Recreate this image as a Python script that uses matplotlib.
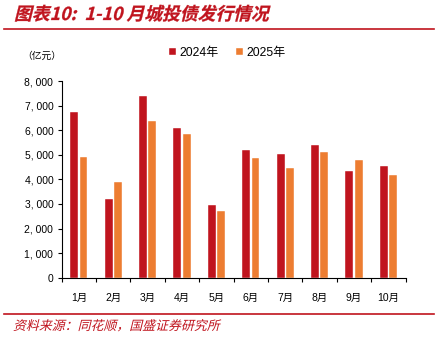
import numpy as np
import matplotlib
matplotlib.use("Agg")
import matplotlib.pyplot as plt
from matplotlib.lines import Line2D
from matplotlib.ticker import FuncFormatter
from matplotlib.textpath import TextPath
from matplotlib.patches import PathPatch
from matplotlib.font_manager import FontProperties
from matplotlib.transforms import Affine2D

plt.rcParams['font.family'] = ['Liberation Sans', 'Noto Sans CJK SC', 'DejaVu Sans']

months = ["1月", "2月", "3月", "4月", "5月", "6月", "7月", "8月", "9月", "10月"]
issue_2024 = [6730, 3200, 7400, 6080, 2940, 5190, 5050, 5380, 4360, 4540]
issue_2025 = [4900, 3880, 6380, 5840, 2710, 4850, 4460, 5110, 4800, 4160]

c24 = "#C0141E"
c25 = "#ED7D31"
red = "#C0141E"

fig = plt.figure(figsize=(4.39, 3.42), dpi=100)
ax = fig.add_axes([0.1405, 0.188, 0.7835, 0.575])


def slanted_text(s, x_px, y_px, size, color, weight="normal", lw=0.2):
    # fake italic: shear the glyph outlines
    fp = FontProperties(family="Noto Sans CJK SC", weight=weight)
    tp = TextPath((0, 0), s, size=size, prop=fp)
    tr = Affine2D().skew_deg(14, 0).scale(1 / 72.0).translate(x_px / 100.0, y_px / 100.0) + fig.dpi_scale_trans
    fig.add_artist(PathPatch(tp, transform=tr, facecolor=color, edgecolor=color, linewidth=lw))


x = np.arange(len(months))
w = 0.23
ax.bar(x - w / 2 - 0.02, issue_2024, w, color=c24, edgecolor="white", linewidth=0.3, label="2024年")
ax.bar(x + w / 2 + 0.02, issue_2025, w, color=c25, edgecolor="white", linewidth=0.3, label="2025年")

ax.set_xlim(-0.5, len(months) - 0.5)
ax.set_ylim(0, 8000)
ax.set_yticks(range(0, 8001, 1000))
ax.yaxis.set_major_formatter(FuncFormatter(lambda v, p: "{:,}".format(int(v)).replace(",", ", ")))
ax.set_xticks(np.arange(-0.5, len(months), 1))
ax.set_xticklabels([])
ax.set_xticks(x, minor=True)
ax.set_xticklabels(months, minor=True)
ax.tick_params(axis="x", which="minor", length=0, pad=11, labelsize=7.5)
ax.tick_params(axis="x", which="major", length=3, direction="out", width=0.8)
ax.tick_params(axis="y", length=3, direction="out", width=0.8, labelsize=7.5, pad=3)
for s in ["top", "right"]:
    ax.spines[s].set_visible(False)
for s in ["left", "bottom"]:
    ax.spines[s].set_linewidth(0.8)

ax.legend(loc="upper left", bbox_to_anchor=(0.28, 1.23), ncol=2, frameon=False,
          fontsize=8.7, handlelength=0.6, handleheight=0.6, handletextpad=0.3, columnspacing=1.4)

fig.text(0.05, 0.838, "（亿元）", fontsize=7, family=['Noto Sans CJK SC'], va="center")

slanted_text("图表10:  1-10 月城投债发行情况", 14, 342 - 20, 12.8, red, weight="bold")
fig.add_artist(Line2D([0.01, 0.988], [0.916, 0.916], color=red, linewidth=1.2))
fig.add_artist(Line2D([0.01, 0.988], [0.081, 0.081], color=red, linewidth=1.2))
slanted_text("资料来源：同花顺，国盛证券研究所", 13, 342 - 330, 9.3, red, lw=0)

fig.savefig("out.png", dpi=100)
